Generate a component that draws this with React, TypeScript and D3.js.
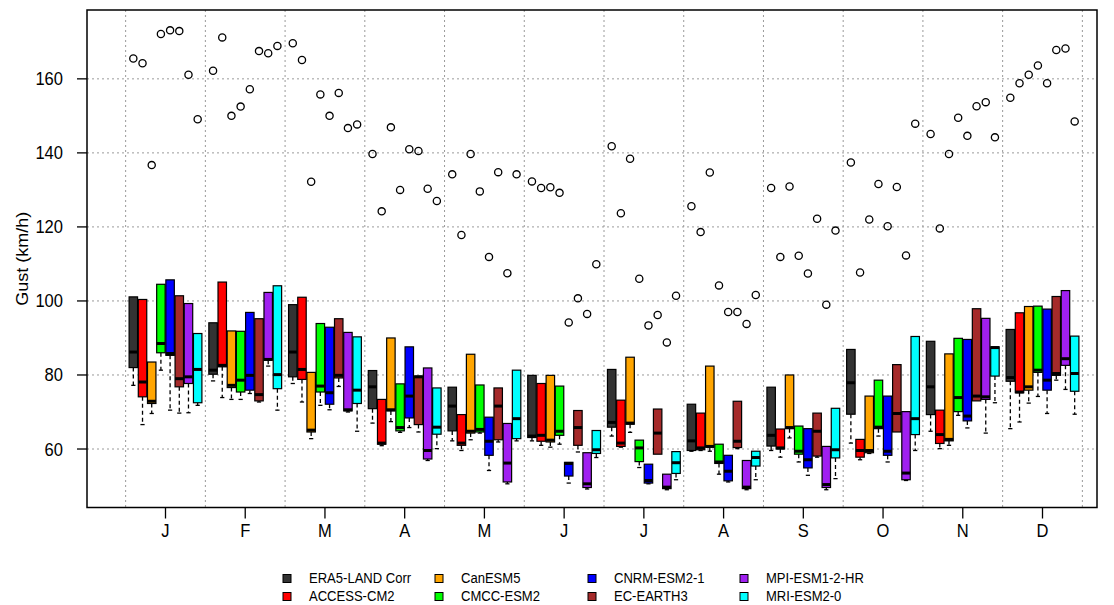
import React from "react";
import * as d3 from "d3";

const months = ["J", "F", "M", "A", "M", "J", "J", "A", "S", "O", "N", "D"];
const models = [
  "ERA5-LAND Corr",
  "ACCESS-CM2",
  "CanESM5",
  "CMCC-ESM2",
  "CNRM-ESM2-1",
  "EC-EARTH3",
  "MPI-ESM1-2-HR",
  "MRI-ESM2-0",
];
const colors = ["#333333", "#FF0000", "#FFA500", "#00FF00", "#0000FF", "#A52A2A", "#A020F0", "#00FFFF"];
const yTicks = [60, 80, 100, 120, 140, 160];

// [model][month]
const whiskerLow = [
  [77.2, 78.4, 77.7, 67.0, 62.2, 62.2, 63.5, 59.4, 59.6, 61.6, 64.8, 65.5],
  [66.6, 73.9, 72.7, 60.9, 59.6, 61.0, 60.5, 59.6, 57.8, 57.1, 60.1, 67.3],
  [69.6, 73.4, 62.8, 67.4, 62.5, 60.5, 64.5, 59.4, 63.0, 58.8, 61.0, 72.4],
  [81.3, 73.4, 71.8, 64.5, 64.3, 61.3, 55.0, 53.2, 56.5, 63.5, 69.1, 74.2],
  [70.5, 75.0, 70.6, 65.8, 54.2, 50.8, 50.6, 51.1, 52.9, 56.5, 65.7, 69.6],
  [69.7, 72.7, 76.9, 64.6, 61.9, 59.2, 58.5, 60.1, 57.8, 64.6, 73.0, 78.6],
  [69.8, 82.4, 70.0, 56.9, 50.6, 49.2, 49.0, 49.0, 49.0, 51.5, 64.3, 76.1],
  [71.8, 70.5, 64.8, 60.1, 62.2, 57.7, 51.7, 51.7, 52.0, 59.6, 72.5, 69.4],
];
const q1 = [
  [82.0, 80.2, 79.5, 70.9, 64.9, 63.1, 65.9, 59.6, 60.8, 69.4, 69.3, 78.3],
  [74.1, 82.2, 78.8, 61.3, 61.0, 62.1, 60.7, 59.8, 60.0, 57.8, 61.5, 75.2],
  [72.3, 76.6, 64.6, 70.3, 64.3, 61.9, 66.7, 60.5, 65.5, 59.0, 62.2, 75.9],
  [86.0, 75.4, 75.4, 64.9, 64.6, 63.7, 56.6, 56.1, 58.6, 65.5, 70.1, 80.7],
  [85.3, 75.9, 72.1, 68.4, 58.3, 52.7, 50.8, 51.4, 54.9, 58.3, 67.6, 75.9],
  [76.8, 73.0, 79.2, 66.6, 62.5, 61.0, 58.6, 60.4, 58.1, 64.6, 73.0, 79.9],
  [77.7, 84.0, 70.3, 57.3, 51.1, 49.6, 49.3, 49.3, 49.6, 51.7, 73.4, 82.6],
  [72.5, 76.3, 72.3, 64.0, 62.8, 58.8, 53.4, 55.4, 57.6, 63.9, 79.7, 75.6],
];
const median = [
  [86.2, 81.3, 86.2, 76.8, 71.6, 63.5, 67.2, 62.2, 63.7, 77.9, 76.8, 79.3],
  [78.1, 82.6, 81.5, 61.6, 61.6, 63.7, 61.6, 60.3, 60.3, 59.6, 63.9, 75.4],
  [72.9, 77.2, 65.1, 70.6, 64.8, 62.4, 67.0, 60.7, 65.8, 59.6, 62.6, 76.8],
  [88.5, 78.6, 77.0, 65.8, 65.3, 64.8, 60.3, 56.5, 59.4, 65.9, 73.9, 81.3],
  [85.8, 79.9, 75.2, 74.3, 62.1, 56.1, 51.5, 54.0, 57.1, 59.4, 68.9, 78.6],
  [79.0, 74.7, 79.9, 79.5, 71.6, 65.8, 64.3, 62.1, 64.8, 69.6, 74.3, 80.4],
  [79.5, 84.2, 70.6, 59.6, 56.2, 50.6, 49.7, 49.7, 50.4, 53.5, 74.1, 84.4],
  [81.5, 80.1, 75.9, 65.9, 68.2, 59.8, 56.3, 57.7, 59.8, 68.2, 87.4, 80.4],
];
const q3 = [
  [101.1, 94.1, 99.0, 81.2, 76.7, 79.9, 81.5, 72.1, 76.7, 86.9, 89.1, 92.3],
  [100.4, 105.1, 101.0, 73.4, 69.3, 77.7, 73.2, 69.7, 65.4, 62.6, 70.5, 96.8],
  [83.5, 91.9, 80.7, 90.0, 85.6, 79.9, 84.8, 82.4, 80.0, 74.3, 85.7, 98.5],
  [104.5, 91.8, 93.9, 77.6, 77.3, 77.0, 62.4, 61.3, 66.2, 78.6, 89.9, 98.6],
  [105.7, 96.9, 92.9, 87.6, 68.6, 56.4, 55.9, 58.3, 65.5, 74.3, 89.6, 97.8],
  [101.4, 95.2, 95.2, 79.7, 76.5, 70.4, 70.8, 72.9, 69.7, 82.8, 97.9, 101.2],
  [99.3, 102.3, 91.5, 81.9, 66.9, 59.0, 53.2, 56.9, 60.7, 70.1, 95.3, 102.8],
  [91.2, 104.1, 90.3, 76.5, 81.3, 65.0, 59.3, 59.4, 71.0, 90.4, 87.6, 90.5],
];
const outlier = [
  [165.5, 162.2, 169.6, 139.7, 134.2, 132.3, 141.8, 125.6, 130.5, 137.4, 145.1, 154.9],
  [164.2, 171.2, 165.1, 124.2, 117.8, 130.5, 123.7, 118.6, 111.9, 107.7, 119.6, 158.8],
  [136.7, 150.0, 132.2, 146.9, 139.7, 130.7, 138.4, 134.7, 130.9, 122.0, 139.7, 161.1],
  [172.1, 152.5, 155.8, 130.0, 129.6, 129.2, 106.0, 104.2, 112.2, 131.6, 149.5, 163.6],
  [173.1, 157.2, 150.0, 141.0, 111.9, 94.2, 93.4, 97.0, 107.4, 120.2, 144.6, 158.8],
  [172.9, 167.5, 156.2, 140.5, 134.8, 100.7, 96.2, 97.0, 122.2, 130.8, 152.6, 167.8],
  [161.1, 166.9, 146.7, 130.3, 107.5, 96.5, 88.8, 93.8, 99.0, 112.3, 153.7, 168.2],
  [149.1, 168.9, 147.7, 127.0, 134.2, 109.9, 101.4, 101.6, 119.0, 147.9, 144.2, 148.5],
];

const W = 1114;
const H = 605;
const plotL = 87;
const plotR = 1097;
const plotT = 10;
const plotB = 507.5;
const font = "'Liberation Sans', Arial, Helvetica, sans-serif";

export default function App() {
  const x = d3.scaleLinear().domain([1, 12]).range([165.5, 1042.5]);
  const y = d3.scaleLinear().domain([44.2, 178.6]).range([plotB, plotT]);
  const inner = d3
    .scaleBand<string>()
    .domain(models)
    .range([-36.4, 36.4])
    .paddingInner(0.08);
  const bw = inner.bandwidth();
  const gridX = d3.range(0.5, 13, 1);

  const boxes: React.ReactNode[] = [];
  const dots: React.ReactNode[] = [];
  models.forEach((m, mi) => {
    months.forEach((_, k) => {
      const cx = x(k + 1) + (inner(m) as number) + bw / 2;
      const x0 = cx - bw / 2;
      const yTop = y(q3[mi][k]);
      const yBot = y(q1[mi][k]);
      const yLo = y(whiskerLow[mi][k]);
      const yMed = y(median[mi][k]);
      boxes.push(
        <g key={`b-${mi}-${k}`}>
          {yLo - yBot > 0.5 && (
            <>
              <line x1={cx} x2={cx} y1={yBot} y2={yLo} stroke="#000" strokeWidth={1.3} strokeDasharray="4,3" />
              <line x1={cx - bw / 4} x2={cx + bw / 4} y1={yLo} y2={yLo} stroke="#000" strokeWidth={1.3} />
            </>
          )}
          <rect x={x0} y={yTop} width={bw} height={yBot - yTop} fill={colors[mi]} stroke="#000" strokeWidth={1.2} />
          <line x1={x0} x2={x0 + bw} y1={yMed} y2={yMed} stroke="#000" strokeWidth={3} />
        </g>
      );
      dots.push(
        <circle key={`o-${mi}-${k}`} cx={cx} cy={y(outlier[mi][k])} r={3.6} fill="none" stroke="#000" strokeWidth={1.3} />
      );
    });
  });

  const legendCols = [309, 461, 614, 766];
  const legendRows = [583, 601];

  return (
    <svg
      width={W}
      height={H}
      style={{ position: "absolute", left: 0, top: 0, display: "block", background: "#fff" }}
      fontFamily={font}
    >
      <rect x={0} y={0} width={W} height={H} fill="#fff" />
      {/* grid */}
      {yTicks.map((t) => (
        <line key={`gy${t}`} x1={plotL} x2={plotR} y1={y(t)} y2={y(t)} stroke="#9a9a9a" strokeWidth={1} strokeDasharray="2,3" />
      ))}
      {gridX.map((g) => (
        <line key={`gx${g}`} x1={x(g)} x2={x(g)} y1={plotT} y2={plotB} stroke="#9a9a9a" strokeWidth={1} strokeDasharray="2,3" />
      ))}
      {boxes}
      {dots}
      {/* frame */}
      <rect x={plotL} y={plotT} width={plotR - plotL} height={plotB - plotT} fill="none" stroke="#000" strokeWidth={1.5} />
      {/* y axis */}
      {yTicks.map((t) => (
        <g key={`yt${t}`}>
          <line x1={plotL - 10} x2={plotL} y1={y(t)} y2={y(t)} stroke="#000" strokeWidth={1.3} />
          <text transform={`translate(63,${y(t)}) scale(0.92,1)`} textAnchor="end" dy="0.36em" fontSize={18} fill="#000">
            {t}
          </text>
        </g>
      ))}
      <text transform={`translate(28,${(plotT + plotB) / 2}) rotate(-90) scale(1,0.92)`} textAnchor="middle" fontSize={18} fill="#000">
        Gust (km/h)
      </text>
      {/* x axis */}
      {months.map((mName, k) => (
        <g key={`xt${k}`}>
          <line x1={x(k + 1)} x2={x(k + 1)} y1={plotB} y2={plotB + 11} stroke="#000" strokeWidth={1.3} />
          <text transform={`translate(${x(k + 1)},537) scale(0.92,1)`} textAnchor="middle" fontSize={18} fill="#000">
            {mName}
          </text>
        </g>
      ))}
      {/* legend */}
      {models.map((m, i) => {
        const col = Math.floor(i / 2);
        const row = i % 2;
        const tx = legendCols[col];
        const ty = legendRows[row];
        return (
          <g key={`lg${i}`}>
            <rect x={tx - 26} y={ty - 8.5} width={8} height={8} fill={colors[i]} stroke="#000" strokeWidth={1} />
            <text transform={`translate(${tx},${ty}) scale(0.87,1)`} fontSize={15} fill="#000">
              {m}
            </text>
          </g>
        );
      })}
    </svg>
  );
}
